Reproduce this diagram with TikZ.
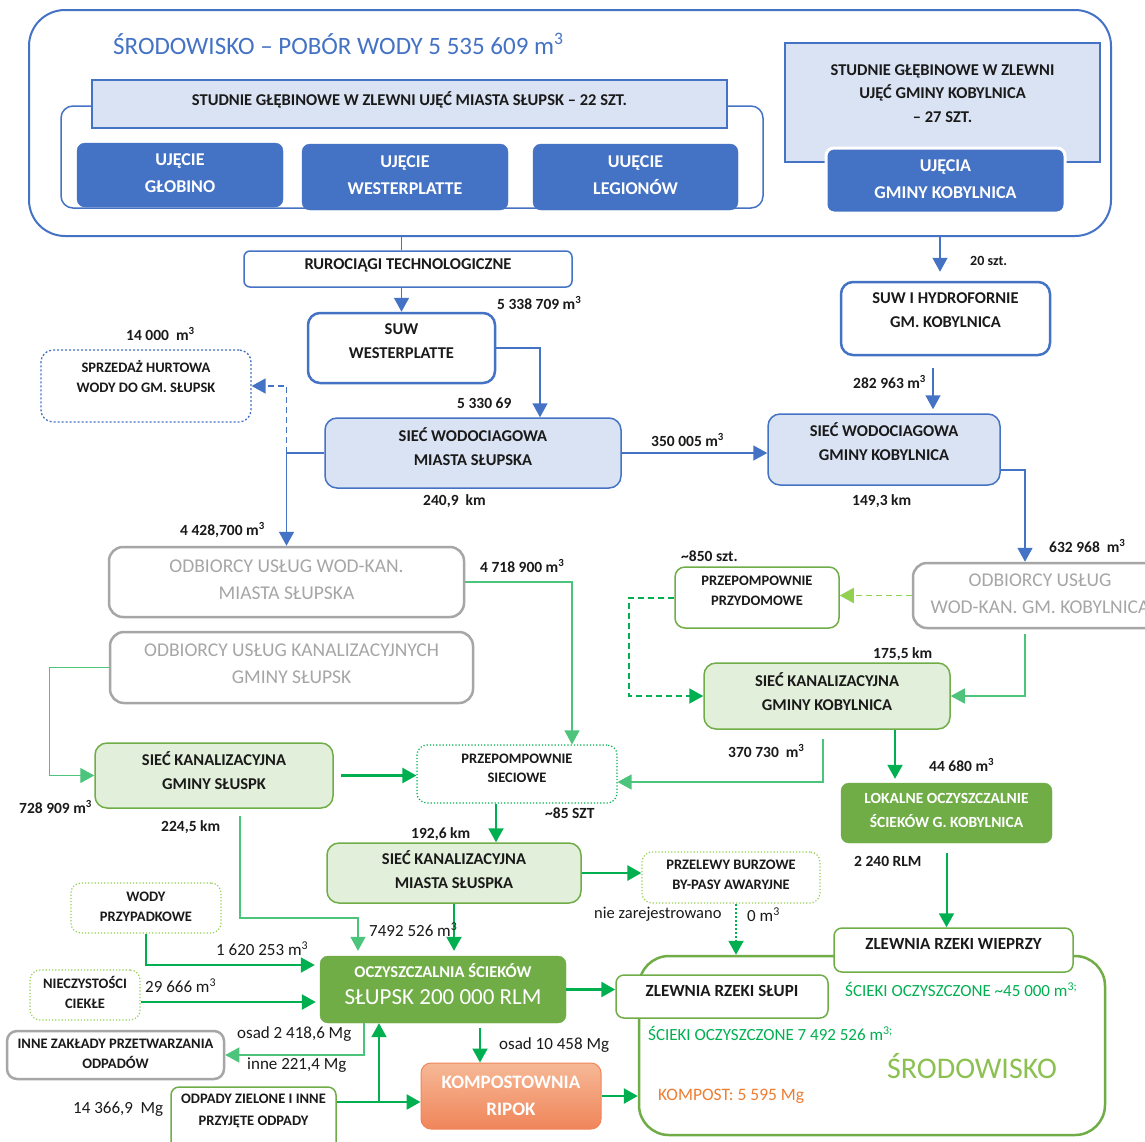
\documentclass[tikz,border=0pt]{standalone}
\usepackage{fontspec}
\setmainfont{Carlito}
\usetikzlibrary{arrows.meta}
\definecolor{bl}{HTML}{4472C4}
\definecolor{lbf}{HTML}{DAE3F3}
\definecolor{gr}{HTML}{A6A6A6}
\definecolor{gb}{HTML}{70AD47}
\definecolor{ga}{HTML}{00B050}
\definecolor{gl}{HTML}{4CC47C}
\definecolor{lgf}{HTML}{E2EFDA}
\definecolor{lg}{HTML}{92D050}
\definecolor{tx}{HTML}{1A1A1A}
\definecolor{org}{HTML}{ED7D31}
\definecolor{srodg}{HTML}{8CC152}
\definecolor{kt}{HTML}{F6B896}
\definecolor{kb}{HTML}{F0855A}
\newcommand\fsz[2]{\fontsize{#1}{#2}\selectfont}
\newcommand\bxn[8]{%
  \node[#1,minimum width=#5pt,minimum height=#6pt] (#2) at (#3,#4) {};
  \node[#1,draw=none,fill=none,minimum width=0pt,minimum height=0pt] (#2t) at ([yshift=#7pt]#2.center) {#8};}
\tikzset{
  tb/.style={align=center, text=tx, font=\bfseries\fsz{16.5}{24}, inner sep=0pt},
  bbox/.style={tb, draw=bl, line width=2pt, rounded corners=12pt, fill=white},
  lbbox/.style={bbox, fill=lbf, line width=1.5pt},
  sqbox/.style={tb, draw=bl, line width=1.2pt, fill=lbf},
  dbox/.style={tb, fill=bl, draw=bl, rounded corners=8pt, text=white, font=\bfseries\fsz{18}{27}},
  gybox/.style={tb, draw=gr, line width=2.5pt, rounded corners=14pt, fill=white, text=gr, font=\fsz{19.5}{27}},
  kbox/.style={tb, draw=gb, line width=1.5pt, fill=lgf, rounded corners=12pt},
  wgbox/.style={tb, draw=gb, line width=1.5pt, fill=white, rounded corners=8pt},
  dgbox/.style={tb, draw=lg, line width=1.2pt, dotted, fill=white, rounded corners=10pt, font=\bfseries\fsz{14.5}{20}},
  fgbox/.style={tb, fill=gb, draw=gb, rounded corners=8pt, text=white},
  lab/.style={anchor=west, inner sep=0pt, text=tx, font=\bfseries\fsz{15.5}{18}, text height=10pt, text depth=0pt},
  rlab/.style={lab, font=\fsz{17}{20}, text height=11pt},
  tip/.style={-{Triangle[length=14pt,width=15pt]}},
  dsh/.style={dash pattern=on 6pt off 4pt},
  arr/.style={draw=bl, line width=1.5pt, tip},
  garr/.style={draw=gl, line width=1.3pt, tip},
  garrM/.style={draw=ga, line width=2pt, tip},
  garrT/.style={draw=ga, line width=2.6pt, tip},
  lgarr/.style={draw=lg, line width=1.8pt, tip},
}
\begin{document}
\begin{tikzpicture}[x=1pt,y=-1pt]
\clip (0,0) rectangle (1145,1141);
\fill[white] (0,0) rectangle (1145,1141);

% ---------- top environment ----------
\node[draw=bl, line width=2pt, rounded corners=36pt, minimum width=1082pt, minimum height=226pt] (env) at (570,123) {};
\node[anchor=west, inner sep=0pt, text=bl, font=\fsz{25}{30}, text height=16pt, text depth=0pt] (title) at (113,46) {ŚRODOWISKO – POBÓR WODY 5 535 609 m\textsuperscript{3}};

\bxn{sqbox}{stud1}{409.5}{104}{635}{48}{4}{STUDNIE GŁĘBINOWE W ZLEWNI UJĘĆ MIASTA SŁUPSK – 22 SZT.}
\draw[bl, line width=1.5pt, rounded corners=12pt] ([yshift=-2pt]stud1.west) -- (61,106) -- (61,208) -- (763,208) -- (763,106) -- ([yshift=-2pt]stud1.east);
\bxn{dbox}{ujG}{180}{175}{206}{64}{2}{UJĘCIE\\GŁOBINO}
\bxn{dbox}{ujW}{405}{177}{206}{66}{2}{UJĘCIE\\WESTERPLATTE}
\bxn{dbox}{ujL}{635.5}{177}{205}{66}{2}{UUĘCIE\\LEGIONÓW}
\bxn{sqbox, font=\bfseries\fsz{16.5}{23.5}}{stud2}{942.5}{102.5}{315}{119}{9}{STUDNIE GŁĘBINOWE W ZLEWNI\\UJĘĆ GMINY KOBYLNICA\\– 27 SZT.}
\bxn{dbox, draw=white, line width=3pt}{ujK}{945.5}{180.5}{239}{65}{1}{UJĘCIA\\GMINY KOBYLNICA}

% ---------- water supply ----------
\bxn{bbox, rounded corners=6pt, line width=1.5pt}{rur}{408}{269}{328}{36}{4}{RUROCIĄGI TECHNOLOGICZNE}
\bxn{bbox, line width=2.5pt}{suwW}{401.5}{348}{187}{70}{7}{SUW\\WESTERPLATTE}
\bxn{bbox, dotted, line width=1.3pt, font=\bfseries\fsz{14.5}{20}}{sprz}{146}{386}{210}{72}{10}{SPRZEDAŻ HURTOWA\\WODY DO GM. SŁUPSK}
\bxn{lbbox}{sieS}{473}{453}{296}{70}{6.5}{SIEĆ WODOCIAGOWA\\MIASTA SŁUPSKA}
\bxn{bbox, line width=2.5pt}{suwK}{945.5}{318.5}{209}{73}{8}{SUW I HYDROFORNIE\\GM. KOBYLNICA}
\bxn{lbbox}{sieK}{884}{449.5}{232}{71}{8}{SIEĆ WODOCIAGOWA\\GMINY KOBYLNICA}

% ---------- consumers ----------
\bxn{gybox}{odbS}{286.5}{582}{355}{70}{2.5}{ODBIORCY USŁUG WOD-KAN.\\MIASTA SŁUPSKA}
\bxn{gybox}{odbK}{1040}{595.5}{254}{65}{2}{ODBIORCY USŁUG\\WOD-KAN. GM. KOBYLNICA}
\bxn{gybox}{odbKan}{291.5}{667.5}{363}{71}{3.5}{ODBIORCY USŁUG KANALIZACYJNYCH\\GMINY SŁUPSK}

% ---------- sewage ----------
\bxn{wgbox, font=\bfseries\fsz{14.5}{20}, rounded corners=10pt}{przD}{757}{597.5}{164}{61}{6.5}{PRZEPOMPOWNIE\\PRZYDOMOWE}
\bxn{kbox}{skK}{827}{696}{246}{66}{4.5}{SIEĆ KANALIZACYJNA\\GMINY KOBYLNICA}
\bxn{kbox}{sksG}{214}{775.5}{238}{65}{5}{SIEĆ KANALIZACYJNA\\GMINY SŁUSPK}
\bxn{dgbox, draw=ga, font=\bfseries\fsz{14.5}{19}}{przS}{517}{774}{200}{58}{5.5}{PRZEPOMPOWNIE\\SIECIOWE}
\bxn{fgbox, font=\bfseries\fsz{15.5}{24}}{lok}{946.5}{813}{211}{60}{3}{LOKALNE OCZYSZCZALNIE\\ŚCIEKÓW G. KOBYLNICA}
\bxn{kbox}{skM}{454}{873}{254}{60}{3}{SIEĆ KANALIZACYJNA\\MIASTA SŁUSPKA}
\bxn{dgbox}{prz2}{731}{877.5}{178}{51}{3}{PRZELEWY BURZOWE\\BY-PASY AWARYJNE}
\bxn{dgbox}{wody}{146}{908}{150}{50}{1}{WODY\\PRZYPADKOWE}
\bxn{dgbox}{niec}{85}{995}{110}{50}{2.5}{NIECZYSTOŚCI\\CIEKŁE}
\bxn{fgbox, font=\fsz{23}{27}}{ocz}{443}{989.5}{246}{67}{5}{{\bfseries\fsz{16.5}{27}OCZYSZCZALNIA ŚCIEKÓW}\\{\fsz{23}{27}SŁUPSK 200 000 RLM}}
\bxn{gybox, text=tx, font=\bfseries\fsz{14.5}{20}, rounded corners=10pt}{inne}{115.5}{1055}{217}{48}{1}{INNE ZAKŁADY PRZETWARZANIA\\ODPADÓW}
\node[tb, rounded corners=10pt, top color=kt, bottom color=kb, draw=kb, line width=1pt, text=white, font=\bfseries\fsz{19}{27}, minimum width=180pt, minimum height=66pt] (komp) at (511,1096) {KOMPOSTOWNIA\\RIPOK};
\bxn{wgbox, font=\bfseries\fsz{14.5}{22}}{odp}{253.5}{1123.5}{165}{73}{12.5}{ODPADY ZIELONE I INNE\\PRZYJĘTE ODPADY}

% ---------- environment (bottom) ----------
\node[draw=gb, line width=2.5pt, rounded corners=30pt, minimum width=466pt, minimum height=179pt] (srod) at (872,1045.5) {};
\bxn{wgbox, font=\bfseries\fsz{17}{22}}{wiep}{953.5}{950}{239}{44}{6}{ZLEWNIA RZEKI WIEPRZY}
\bxn{wgbox, font=\bfseries\fsz{17}{22}}{slupi}{722}{996.5}{212}{43}{5.5}{ZLEWNIA RZEKI SŁUPI}
\node[rlab, text=ga] (t45) at (845,991) {ŚCIEKI OCZYSZCZONE \textasciitilde45 000 m\textsuperscript{3;}};
\node[rlab, text=ga] (t749) at (648,1035) {ŚCIEKI OCZYSZCZONE 7 492 526 m\textsuperscript{3;}};
\node[inner sep=0pt, text=srodg, font=\fsz{30}{34}] (srodt) at (972,1066) {ŚRODOWISKO};
\node[rlab, text=org, font=\fsz{17.5}{20}] (kompt) at (658,1095) {KOMPOST: 5 595 Mg};

% ---------- blue connectors ----------
\draw[bl, line width=1.5pt] (env.south -| suwW.north) -- (rur.north -| suwW.north);
\draw[arr] (rur.south -| suwW.north) -- (suwW.north);
\draw[arr] (suwW.east) -| ([xshift=67pt]sieS.north);
\draw[arr] (sieS.west) -| (odbS.north);
\draw[arr, dsh] (sieS.west -| odbS.north) |- (sprz.east);
\coordinate (k0) at ([xshift=-5.5pt]suwK.north);
\draw[arr, shorten >=9pt] (env.south -| k0) -- (k0);
\coordinate (k1) at ([xshift=-12.5pt]suwK.south);
\draw[arr, shorten <=12pt, shorten >=4pt] (k1) -- (k1 |- sieK.north);
\draw[arr] (sieS.east) -- (sieS.east -| sieK.west);
\coordinate (k2) at ([yshift=-20.5pt]sieK.east);
\draw[arr] (k2) -| ([xshift=-15pt]odbK.north);

% ---------- green connectors ----------
\draw[garr] (odbS.east) -| ([xshift=55pt]przS.north);
\draw[garr] (odbKan.west) -- ++(-59,0) |- (sksG.west);
\draw[garrT, shorten <=7pt] (sksG.east) -- (sksG.east -| przS.west);
\coordinate (k3) at ([xshift=-21pt]przS.south);
\draw[garrM] (k3) -- (k3 |- skM.north);
\coordinate (k4) at ([xshift=26pt]sksG.south);
\coordinate (k5) at (358,918);
\draw[garr, shorten <=7pt, shorten >=5pt] (k4) |- (k5) -- (k5 |- ocz.north);
\draw[garrM, shorten >=5pt] (skM.south) -- (skM.south |- ocz.north);
\coordinate (k6) at ([yshift=24.5pt]ocz.west);
\draw[garrM, shorten >=5pt] (wody.south) |- (k6);
\coordinate (k7) at ([yshift=-7pt]niec.east);
\draw[garrT, shorten >=4pt] (k7) -- (k7 -| ocz.west);
\draw[garr] ([xshift=-79pt]ocz.south) |- (inne.east);
\coordinate (k8) at ([xshift=37pt]ocz.south);
\draw[garrM, shorten <=5pt] (k8) -- (k8 |- komp.north);
\coordinate (k9) at ([yshift=21.5pt]odp.east);
\draw[garrT] (k9) -- (k9 -| komp.west);
\coordinate (k10) at (379,1102);
\draw[garrM] (k10) -- (k10 |- ocz.south);
\draw[garrT] (skM.east) -- (skM.east -| prz2.west);
\draw[garrM, shorten <=10pt] (lok.south) -- (lok.south |- wiep.north);
\coordinate (k11) at ([xshift=5pt]prz2.south);
\draw[garrM, dotted] (k11) -- (k11 |- srod.north);
\draw[garrT] (ocz.east) -- (ocz.east -| slupi.west);
\draw[garrT] (komp.east) -- (komp.east -| srod.west);
\draw[lgarr, dsh] (odbK.west) -- (odbK.west -| przD.east);
\draw[garrM, dsh] (przD.west) -- ++(-45,0) |- (skK.west);
\coordinate (k12) at ([xshift=-15pt]odbK.south);
\draw[garr, shorten <=5pt] (k12) |- (skK.east);
\coordinate (k13) at ([xshift=68pt]skK.south);
\draw[garrM, shorten >=4pt] (k13) -- (k13 |- lok.north);
\coordinate (k14) at ([xshift=-4pt]skK.south);
\draw[garr, shorten <=9pt] (k14) |- ([yshift=-8pt]przS.east);

% ---------- labels ----------
\node[lab, font=\bfseries\fsz{14}{16}] (l20) at (970,260) {20 szt.};
\node[lab] (l1) at (497,304) {5 338 709 m\textsuperscript{3}};
\node[lab] (l2) at (126,335) {14 000~ m\textsuperscript{3}};
\node[lab] (l3) at (457,403) {5 330 69};
\node[lab] (l4) at (853,383) {282 963 m\textsuperscript{3}};
\node[lab] (l5) at (651,441) {350 005 m\textsuperscript{3}};
\node[lab] (l6) at (423,500) {240,9~ km};
\node[lab] (l7) at (852,500) {149,3 km};
\node[lab] (l8) at (180,530) {4 428,700 m\textsuperscript{3}};
\node[lab] (l9) at (480,567) {4 718 900 m\textsuperscript{3}};
\node[lab] (l10) at (1049,547) {632 968~ m\textsuperscript{3}};
\node[lab] (l11) at (681,556) {\textasciitilde850 szt.};
\node[lab] (l12) at (873,653) {175,5 km};
\node[lab] (l13) at (728,752) {370 730~ m\textsuperscript{3}};
\node[lab] (l14) at (929,766) {44 680 m\textsuperscript{3}};
\node[lab] (l15) at (19,808) {728 909 m\textsuperscript{3}};
\node[lab] (l16) at (161,826) {224,5 km};
\node[lab] (l17) at (545,813) {\textasciitilde85 SZT};
\node[lab] (l18) at (411,833) {192,6 km};
\node[lab] (l19) at (854,861) {2 240 RLM};
\node[rlab, font=\fsz{16.5}{20}] (l21) at (594,913) {nie zarejestrowano};
\node[rlab] (l22) at (747,916) {0 m\textsuperscript{3}};
\node[rlab] (l23) at (369,931) {7492 526 m\textsuperscript{3}};
\node[rlab] (l24) at (216,950) {1 620 253 m\textsuperscript{3}};
\node[rlab] (l25) at (145,987) {29 666 m\textsuperscript{3}};
\node[rlab] (l26) at (237,1033) {osad 2 418,6 Mg};
\node[rlab] (l27) at (247,1064) {inne 221,4 Mg};
\node[rlab] (l28) at (499,1044) {osad 10 458 Mg};
\node[rlab] (l29) at (73,1108) {14 366,9~ Mg};
\end{tikzpicture}
\end{document}
